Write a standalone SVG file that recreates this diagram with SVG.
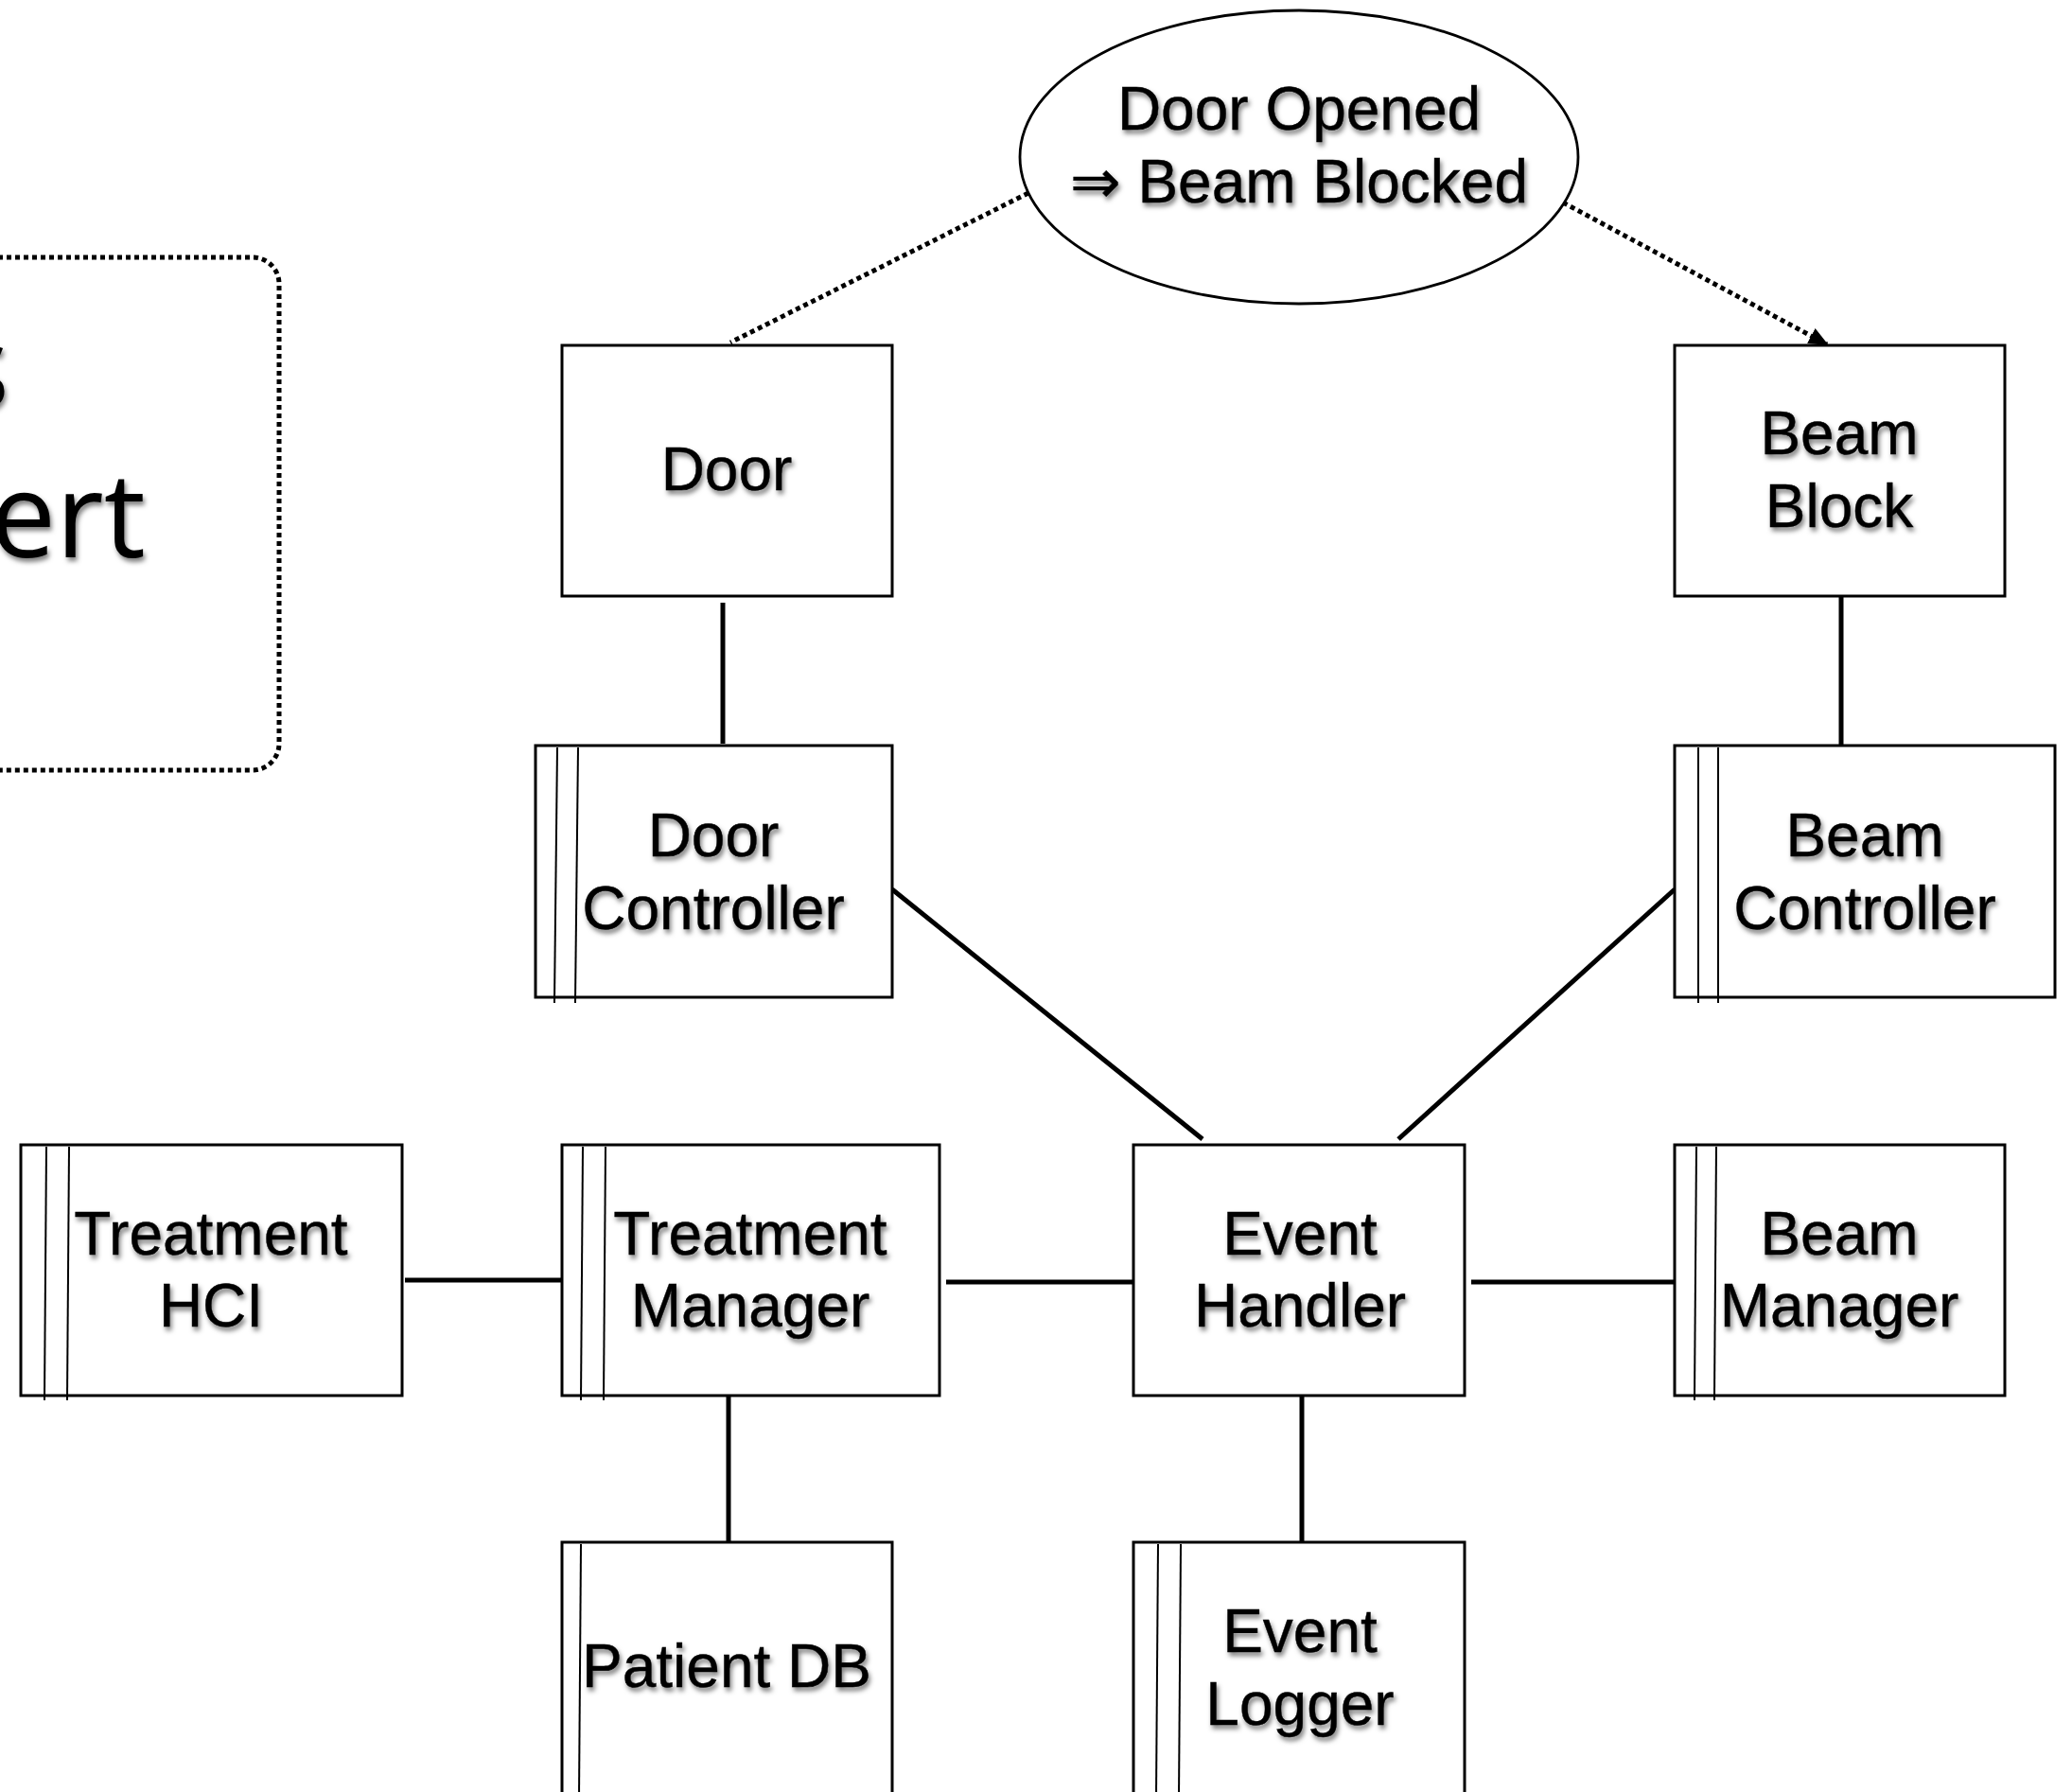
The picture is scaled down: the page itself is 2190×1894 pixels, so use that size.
<svg xmlns="http://www.w3.org/2000/svg" width="2190" height="1894" viewBox="0 0 2190 1894">
  <defs>
    <filter id="shadow" x="-10%" y="-20%" width="130%" height="160%">
      <feDropShadow dx="2" dy="4" stdDeviation="2.5" flood-color="#000" flood-opacity="0.5"/>
    </filter>
    <marker id="arrow" viewBox="0 0 10 10" refX="9" refY="5" markerWidth="4.2" markerHeight="3.6" markerUnits="strokeWidth" orient="auto" preserveAspectRatio="none">
      <path d="M0,0 L10,5 L0,10 z" fill="#000"/>
    </marker>
  </defs>
  <style>
    .box { fill: #fff; stroke: #000; stroke-width: 3; }
    .bar { fill: none; stroke: #000; stroke-width: 2; }
    .label { font-family: "Liberation Sans", "DejaVu Sans", Arial, sans-serif; font-size: 64px; fill: #000; text-anchor: middle; filter: url(#shadow); stroke: #000; stroke-width: 0.4; }
    .big { font-family: "Open Sans", "Noto Sans", sans-serif; font-size: 124px; fill: #000; text-anchor: end; filter: url(#shadow); }
    .link { fill: none; stroke: #000; stroke-width: 5; }
    .dotted { fill: none; stroke: #000; stroke-width: 5; stroke-dasharray: 5 4; }
  </style>
  <rect width="2190" height="1894" fill="#fff"/>

  <!-- note panel on the left, mostly off the page -->
  <g id="note">
    <rect x="-120" y="272" width="415" height="542" rx="28" ry="28" class="dotted"/>
    <text class="big" x="10" y="432">s</text>
    <text class="big" x="154" y="589">ert</text>
  </g>

  <!-- connectors -->
  <g id="connectors">
    <line class="dotted" x1="1087" y1="204" x2="772" y2="362"/>
    <line class="dotted" x1="1652" y1="214" x2="1931" y2="364" marker-end="url(#arrow)"/>
    <line class="link" x1="764" y1="637" x2="764" y2="786"/>
    <line class="link" x1="1946" y1="630" x2="1946" y2="788"/>
    <line class="link" x1="943" y1="940" x2="1271" y2="1204"/>
    <line class="link" x1="1770" y1="940" x2="1478" y2="1204"/>
    <line class="link" x1="428" y1="1353" x2="594" y2="1353"/>
    <line class="link" x1="1000" y1="1355" x2="1198" y2="1355"/>
    <line class="link" x1="1555" y1="1355" x2="1770" y2="1355"/>
    <line class="link" x1="770" y1="1475" x2="770" y2="1630"/>
    <line class="link" x1="1376" y1="1475" x2="1376" y2="1630"/>
  </g>

  <g id="invariant">
    <ellipse cx="1373" cy="166" rx="295" ry="155" fill="#fff" stroke="#000" stroke-width="2.8"/>
    <text class="label" x="1373" y="137">Door Opened</text>
    <text class="label" x="1373" y="214">⇒ Beam Blocked</text>
  </g>

  <g id="door">
    <rect class="box" x="594" y="365" width="349" height="265"/>
    <text class="label" x="768" y="518">Door</text>
  </g>

  <g id="beam-block">
    <rect class="box" x="1770" y="365" width="349" height="265"/>
    <text class="label" x="1944" y="480">Beam</text>
    <text class="label" x="1944" y="557">Block</text>
  </g>

  <g id="door-controller">
    <rect class="box" x="566" y="788" width="377" height="266"/>
    <line class="bar" x1="589" y1="790" x2="586" y2="1060"/>
    <line class="bar" x1="611" y1="790" x2="608" y2="1060"/>
    <text class="label" x="754" y="905">Door</text>
    <text class="label" x="754" y="982">Controller</text>
  </g>

  <g id="beam-controller">
    <rect class="box" x="1770" y="788" width="402" height="266"/>
    <line class="bar" x1="1795" y1="790" x2="1795" y2="1060"/>
    <line class="bar" x1="1816" y1="790" x2="1816" y2="1060"/>
    <text class="label" x="1971" y="905">Beam</text>
    <text class="label" x="1971" y="982">Controller</text>
  </g>

  <g id="treatment-hci">
    <rect class="box" x="22" y="1210" width="403" height="265"/>
    <line class="bar" x1="49" y1="1212" x2="47" y2="1480"/>
    <line class="bar" x1="73" y1="1212" x2="71" y2="1480"/>
    <text class="label" x="223" y="1326">Treatment</text>
    <text class="label" x="223" y="1402">HCI</text>
  </g>

  <g id="treatment-manager">
    <rect class="box" x="594" y="1210" width="399" height="265"/>
    <line class="bar" x1="616" y1="1212" x2="614" y2="1480"/>
    <line class="bar" x1="640" y1="1212" x2="638" y2="1480"/>
    <text class="label" x="793" y="1326">Treatment</text>
    <text class="label" x="793" y="1402">Manager</text>
  </g>

  <g id="event-handler">
    <rect class="box" x="1198" y="1210" width="350" height="265"/>
    <text class="label" x="1374" y="1326">Event</text>
    <text class="label" x="1374" y="1402">Handler</text>
  </g>

  <g id="beam-manager">
    <rect class="box" x="1770" y="1210" width="349" height="265"/>
    <line class="bar" x1="1793" y1="1212" x2="1791" y2="1480"/>
    <line class="bar" x1="1814" y1="1212" x2="1812" y2="1480"/>
    <text class="label" x="1944" y="1326">Beam</text>
    <text class="label" x="1944" y="1402">Manager</text>
  </g>

  <g id="patient-db">
    <rect class="box" x="594" y="1630" width="349" height="300"/>
    <line class="bar" x1="614" y1="1632" x2="612" y2="1900"/>
    <text class="label" x="768" y="1783">Patient DB</text>
  </g>

  <g id="event-logger">
    <rect class="box" x="1198" y="1630" width="350" height="300"/>
    <line class="bar" x1="1224" y1="1632" x2="1222" y2="1900"/>
    <line class="bar" x1="1248" y1="1632" x2="1246" y2="1900"/>
    <text class="label" x="1374" y="1746">Event</text>
    <text class="label" x="1374" y="1823">Logger</text>
  </g>
</svg>
